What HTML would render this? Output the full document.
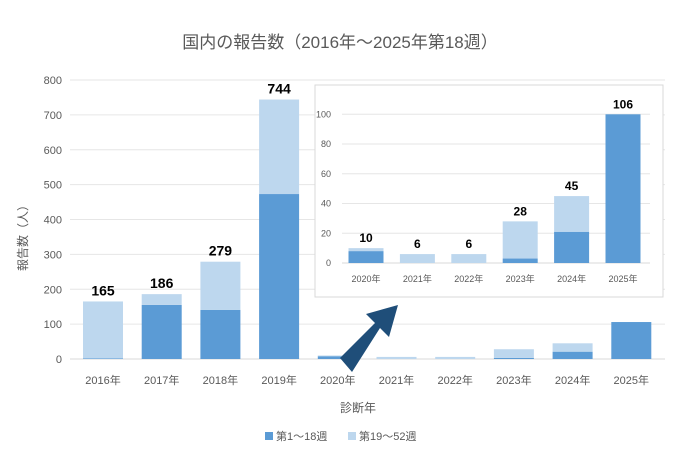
<!DOCTYPE html>
<html><head><meta charset="utf-8"><style>
body{margin:0;background:#fff}
svg text{font-family:"Liberation Sans","Noto Sans CJK JP",sans-serif}
</style></head><body>
<svg width="680" height="454" viewBox="0 0 680 454" xmlns="http://www.w3.org/2000/svg" id="chart">
<text x="340" y="48" text-anchor="middle" font-size="17" fill="#595959">国内の報告数（2016年～2025年第18週）</text>
<g id="main"></g>
<text transform="translate(27,235) rotate(-90)" text-anchor="middle" font-size="12" fill="#595959">報告数（人）</text>
<text x="358" y="412" text-anchor="middle" font-size="12" fill="#595959">診断年</text>
<g>
<rect x="265" y="432" width="8" height="8" fill="#5b9bd5"/>
<text x="276" y="440" font-size="11" fill="#595959">第1～18週</text>
<rect x="348" y="432" width="8" height="8" fill="#bdd7ee"/>
<text x="359" y="440" font-size="11" fill="#595959">第19～52週</text>
</g>
<polygon points="352,372 340,358 375,323 366,314 398,305 389,337 380,328 352,372" fill="#1f4e79"/>
<rect x="315" y="85" width="348" height="212" fill="#fff" stroke="#d9d9d9"/>
<g id="inset"></g>
</svg>
<script>
const years=["2016年","2017年","2018年","2019年","2020年","2021年","2022年","2023年","2024年","2025年"];
const early=[2,155,141,473,8,0,0,3,21,106];
const totals=[165,186,279,744,10,6,6,28,45,106];
const mainTicks=[0,100,200,300,400,500,600,700,800];
const insetYears=["2020年","2021年","2022年","2023年","2024年","2025年"];
const insetEarly=[8,0,0,3,21,106];
const insetTotals=[10,6,6,28,45,106];
const insetTicks=[0,20,40,60,80,100];
const NS="http://www.w3.org/2000/svg";
function mk(p,t,a){const e=document.createElementNS(NS,t);for(const k in a)e.setAttribute(k,a[k]);p.appendChild(e);return e;}
const m=document.getElementById('main');
const my=v=>359-v*279/800, mx=i=>103+i*58.7;
mainTicks.forEach(t=>{
 const l=mk(m,'line',{x1:70,x2:665,y1:my(t),y2:my(t),stroke:t?'#e6e6e6':'#d9d9d9'});
 
 
 const tx=mk(m,'text',{x:62,y:my(t)+4,'text-anchor':'end','font-size':11,fill:'#595959'});tx.textContent=t;
 
 
});
years.forEach((y,i)=>{
 const late=totals[i]-early[i];
 const a=mk(m,'rect',{x:mx(i)-20,y:my(early[i]),width:40,height:359-my(early[i]),fill:'#5b9bd5'});
 
 
 const b=mk(m,'rect',{x:mx(i)-20,y:my(totals[i]),width:40,height:my(early[i])-my(totals[i]),fill:'#bdd7ee'});
 
 
 const tx=mk(m,'text',{x:mx(i),y:384,'text-anchor':'middle','font-size':11,fill:'#595959'});tx.textContent=y;
 
 
 if(i<4){const v=mk(m,'text',{x:mx(i),y:my(totals[i])-6,'text-anchor':'middle','font-size':14,'font-weight':'bold',fill:'#000'});v.textContent=totals[i];
 
 }
});
const g=document.getElementById('inset');
const iy=v=>263-Math.min(v,100)*1.487, ix=i=>366+i*51.4;
insetTicks.forEach(t=>{
 const l=mk(g,'line',{x1:342,x2:650,y1:iy(t),y2:iy(t),stroke:t?'#e6e6e6':'#d9d9d9'});
 
 
 const tx=mk(g,'text',{x:331,y:iy(t)+3,'text-anchor':'end','font-size':9,fill:'#595959'});tx.textContent=t;
 
 
});
insetYears.forEach((y,i)=>{
 const a=mk(g,'rect',{x:ix(i)-17.5,y:iy(insetEarly[i]),width:35,height:263-iy(insetEarly[i]),fill:'#5b9bd5'});
 
 
 const b=mk(g,'rect',{x:ix(i)-17.5,y:iy(insetTotals[i]),width:35,height:iy(insetEarly[i])-iy(insetTotals[i]),fill:'#bdd7ee'});
 
 
 const tx=mk(g,'text',{x:ix(i),y:282,'text-anchor':'middle','font-size':9,fill:'#595959'});tx.textContent=y;
 
 
 const v=mk(g,'text',{x:ix(i),y:iy(insetTotals[i])-6,'text-anchor':'middle','font-size':12,'font-weight':'bold',fill:'#000'});v.textContent=insetTotals[i];
 
 
});
</script>
</body></html>
